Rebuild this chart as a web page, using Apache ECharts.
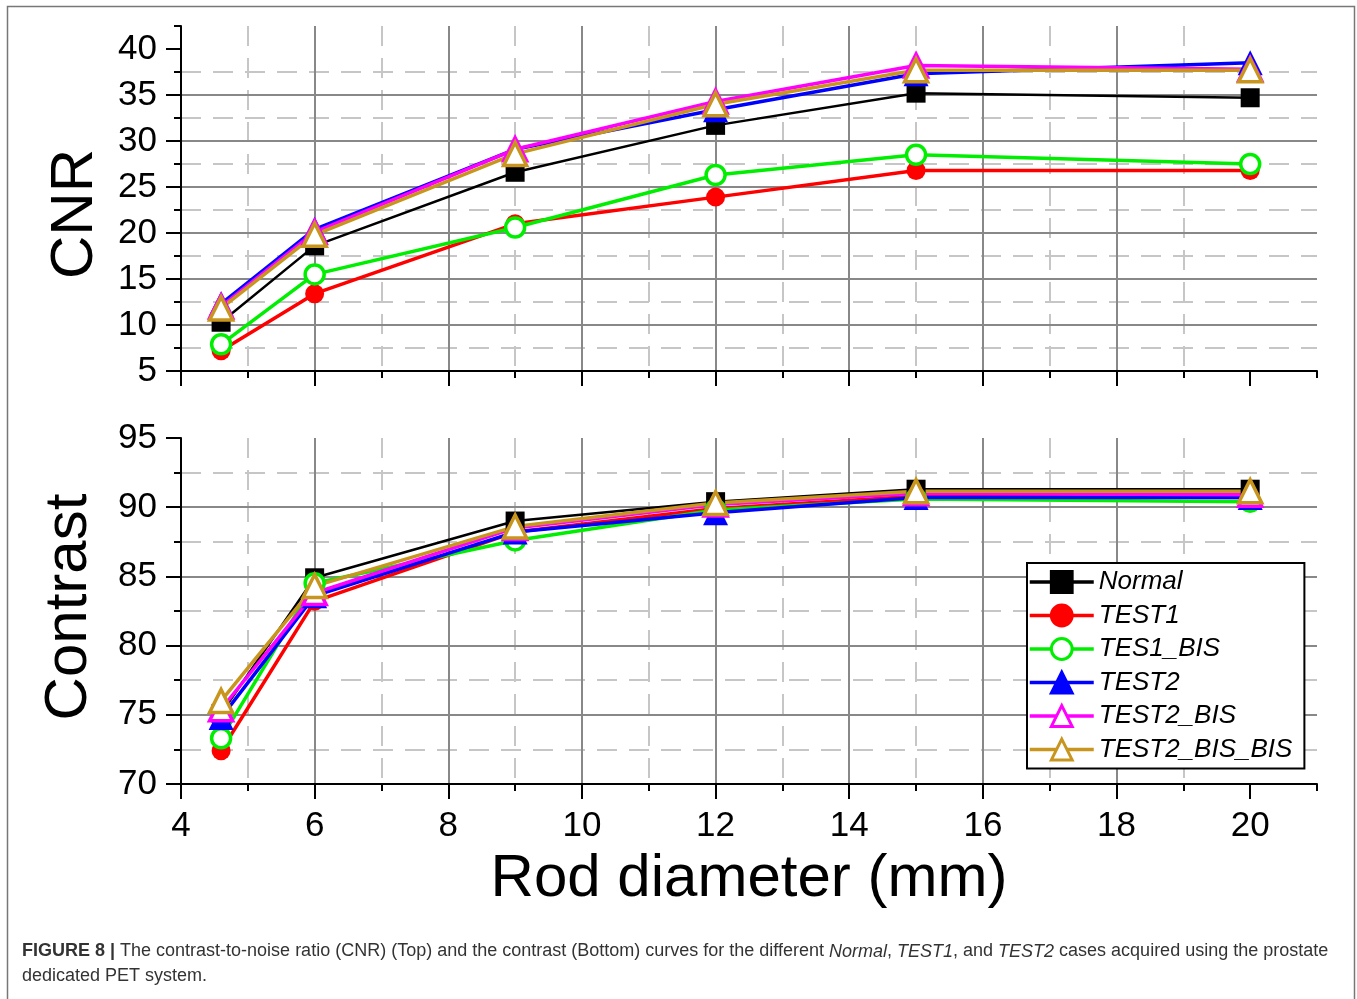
<!DOCTYPE html>
<html>
<head>
<meta charset="utf-8">
<title>CNR and contrast vs rod diameter</title>
<script src="https://cdn.jsdelivr.net/npm/echarts@6/dist/echarts.min.js"></script>
<style>
html, body { margin: 0; padding: 0; background: #fff; }
#chart { width: 1357px; height: 999px; }
</style>
</head>
<body>
<div id="chart"></div>
<script>
// data
var rodDiameter = [4.6, 6, 9, 12, 15, 20];
var seriesNames = ['Normal', 'TEST1', 'TES1_BIS', 'TEST2', 'TEST2_BIS', 'TEST2_BIS_BIS'];

var cnrNormal      = [10.3, 18.6, 26.6, 31.7, 35.2, 34.7];
var cnrTest1       = [7.2, 13.4, 21.0, 23.9, 26.8, 26.8];
var cnrTes1Bis     = [7.9, 15.5, 20.6, 26.3, 28.5, 27.5];
var cnrTest2       = [12.3, 20.4, 29.1, 33.4, 37.3, 38.5];
var cnrTest2Bis    = [12.0, 20.1, 29.1, 34.3, 38.2, 37.8];
var cnrTest2BisBis = [11.8, 19.8, 28.6, 34.0, 37.7, 37.7];

var conNormal      = [75.1, 84.9, 89.0, 90.4, 91.3, 91.3];
var conTest1       = [72.4, 83.2, 88.2, 89.9, 90.8, 90.7];
var conTes1Bis     = [73.3, 84.5, 87.6, 89.8, 90.6, 90.4];
var conTest2       = [74.8, 83.6, 88.2, 89.6, 90.7, 90.7];
var conTest2Bis    = [75.4, 83.8, 88.5, 90.2, 91.0, 90.9];
var conTest2BisBis = [76.0, 84.3, 88.6, 90.3, 91.15, 91.15];

var xTickLabels = [4, 6, 8, 10, 12, 14, 16, 18, 20];
var cnrTickLabels = [5, 10, 15, 20, 25, 30, 35, 40];
var contrastTickLabels = [70, 75, 80, 85, 90, 95];

var FONT = '"Liberation Sans", Arial, Helvetica, sans-serif';

var styles = [
    { symbol: 'rect',     size: 19, color: '#000000', fill: '#000000', width: 2.5, border: 0 },
    { symbol: 'circle',   size: 19, color: '#ff0000', fill: '#ff0000', width: 3.5, border: 0 },
    { symbol: 'circle',   size: 19, color: '#00ee00', fill: '#ffffff', width: 3.5, border: 3.5 },
    { symbol: 'triangle', size: 25, color: '#0000ff', fill: '#0000ff', width: 3.5, border: 0 },
    { symbol: 'triangle', size: 23, color: '#ff00ff', fill: '#ffffff', width: 3.5, border: 3.5 },
    { symbol: 'triangle', size: 23, color: '#c8961e', fill: '#ffffff', width: 3.5, border: 3.5 }
];

function pairs(xs, ys) {
    var out = [];
    for (var i = 0; i < xs.length; i++) out.push([xs[i], ys[i]]);
    return out;
}

// colour lists for split lines: solid on major ticks, dashed on minor ones
function majorColors(count) {
    var c = [];
    for (var i = 0; i < count; i++) c.push('#888888');
    c.push('rgba(0,0,0,0)');
    return c;
}
function minorColors(count) {
    var c = [];
    for (var i = 0; i < count; i++) c.push(i % 2 === 1 && i < count - 1 ? '#c6c6c6' : 'rgba(0,0,0,0)');
    return c;
}

function xAxisPair(gridIndex, showLabels) {
    var major = {
        type: 'value', gridIndex: gridIndex, min: 4, max: 21, interval: 2,
        position: 'bottom',
        axisLine: { show: true, onZero: false, lineStyle: { color: '#000', width: 2 } },
        axisTick: { show: true, length: 15, customValues: xTickLabels, lineStyle: { color: '#000', width: 2 } },
        axisLabel: {
            show: showLabels, customValues: xTickLabels, margin: 25,
            fontSize: 35, color: '#000', fontFamily: FONT,
            formatter: function (v) { return v % 2 === 0 ? String(v) : ''; }
        },
        splitLine: { show: true, showMaxLine: false, lineStyle: { color: majorColors(9), width: 2 } },
        z: 3
    };
    var minor = {
        type: 'value', gridIndex: gridIndex, min: 4, max: 21, interval: 1,
        position: 'bottom',
        axisLine: { show: false, onZero: false },
        axisTick: { show: true, length: 7, lineStyle: { color: '#000', width: 2 } },
        axisLabel: { show: false },
        splitLine: { show: true, lineStyle: { color: minorColors(18), width: 2, type: [20, 12] } },
        z: 2
    };
    return [major, minor];
}

function yAxisPair(gridIndex, min, max, ticks) {
    var majorCount = Math.floor((max - min) / 5 + 1e-9) + 1;
    var minorCount = Math.round((max - min) / 2.5) + 1;
    var major = {
        type: 'value', gridIndex: gridIndex, min: min, max: max, interval: 5,
        position: 'left',
        axisLine: { show: true, onZero: false, lineStyle: { color: '#000', width: 2 } },
        axisTick: { show: true, length: 15, customValues: ticks, lineStyle: { color: '#000', width: 2 } },
        axisLabel: {
            show: true, customValues: ticks, margin: 24,
            fontSize: 35, color: '#000', fontFamily: FONT,
            formatter: function (v) { return v % 5 === 0 ? String(v) : ''; }
        },
        splitLine: { show: true, showMaxLine: false, lineStyle: { color: majorColors(max % 5 === 0 ? majorCount - 1 : majorCount), width: 2 } },
        z: 3
    };
    var minor = {
        type: 'value', gridIndex: gridIndex, min: min, max: max, interval: 2.5,
        position: 'left',
        axisLine: { show: false, onZero: false },
        axisTick: { show: true, length: 7, lineStyle: { color: '#000', width: 2 } },
        axisLabel: { show: false },
        splitLine: { show: true, lineStyle: { color: minorColors(minorCount), width: 2, type: [20, 12] } },
        z: 2
    };
    return [major, minor];
}

function buildSeries(gridIndex, lists) {
    return lists.map(function (ys, i) {
        var s = styles[i];
        return {
            type: 'line',
            name: seriesNames[i],
            xAxisIndex: gridIndex * 2,
            yAxisIndex: gridIndex * 2,
            data: pairs(rodDiameter, ys),
            symbol: s.symbol,
            symbolSize: s.size,
            showAllSymbol: true,
            lineStyle: { color: s.color, width: s.width },
            itemStyle: { color: s.fill, borderColor: s.color, borderWidth: s.border },
            emphasis: { disabled: true },
            animation: false,
            z: 5
        };
    });
}

var chart = echarts.init(document.getElementById('chart'), null, { renderer: 'canvas' });

var xAxes = xAxisPair(0, false).concat(xAxisPair(1, true));
xAxes[2].name = 'Rod diameter (mm)';
xAxes[2].nameLocation = 'middle';
xAxes[2].nameGap = 65;
xAxes[2].nameTextStyle = { fontSize: 60, color: '#000', fontFamily: FONT };

var option = {
    backgroundColor: '#fff',
    animation: false,
    grid: [
        { left: 181, top: 26, width: 1136, height: 345 },
        { left: 181, top: 438, width: 1136, height: 346 }
    ],
    xAxis: xAxes,
    yAxis: yAxisPair(0, 5, 42.5, cnrTickLabels).concat(yAxisPair(1, 70, 95, contrastTickLabels)),
    legend: {
        data: seriesNames,
        orient: 'vertical',
        left: 1027,
        top: 563,
        itemWidth: 64,
        itemHeight: 26,
        itemGap: 7.5,
        padding: [6, 12, 6, 1],
        backgroundColor: '#fff',
        borderColor: '#000',
        borderWidth: 2,
        selectedMode: false,
        lineStyle: { width: 3.5 },
        itemStyle: { borderWidth: 3 },
        textStyle: { fontSize: 26, fontStyle: 'italic', color: '#000', fontFamily: FONT },
        z: 10
    },
    series: buildSeries(0, [cnrNormal, cnrTest1, cnrTes1Bis, cnrTest2, cnrTest2Bis, cnrTest2BisBis])
        .concat(buildSeries(1, [conNormal, conTest1, conTes1Bis, conTest2, conTest2Bis, conTest2BisBis])),
    graphic: [
        {
            type: 'rect', silent: true,
            shape: { x: 7.5, y: 6.5, width: 1347, height: 1010 },
            style: { fill: 'none', stroke: '#777', lineWidth: 1.5 }
        },
        {
            type: 'text', x: 75, y: 214, rotation: Math.PI / 2,
            style: { text: 'CNR', font: '60px ' + FONT, fill: '#000', textAlign: 'center', textVerticalAlign: 'middle' }
        },
        {
            type: 'text', x: 69, y: 607, rotation: Math.PI / 2,
            style: { text: 'Contrast', font: '60px ' + FONT, fill: '#000', textAlign: 'center', textVerticalAlign: 'middle' }
        },
        {
            type: 'text', x: 22, y: 939,
            style: {
                text: '{b|FIGURE 8 |} The contrast-to-noise ratio (CNR) (Top) and the contrast (Bottom) curves for the different {i|Normal}, {i|TEST1}, and {i|TEST2} cases acquired using the prostate\ndedicated PET system.',
                font: '18px ' + FONT,
                fill: '#333',
                lineHeight: 25,
                rich: {
                    b: { fontWeight: 'bold', fontSize: 18, fontFamily: FONT, fill: '#333', lineHeight: 25 },
                    i: { fontStyle: 'italic', fontSize: 18, fontFamily: FONT, fill: '#333', lineHeight: 25 }
                }
            }
        }
    ]
};

chart.setOption(option);
window.addEventListener('resize', chart.resize);
</script>
</body>
</html>
